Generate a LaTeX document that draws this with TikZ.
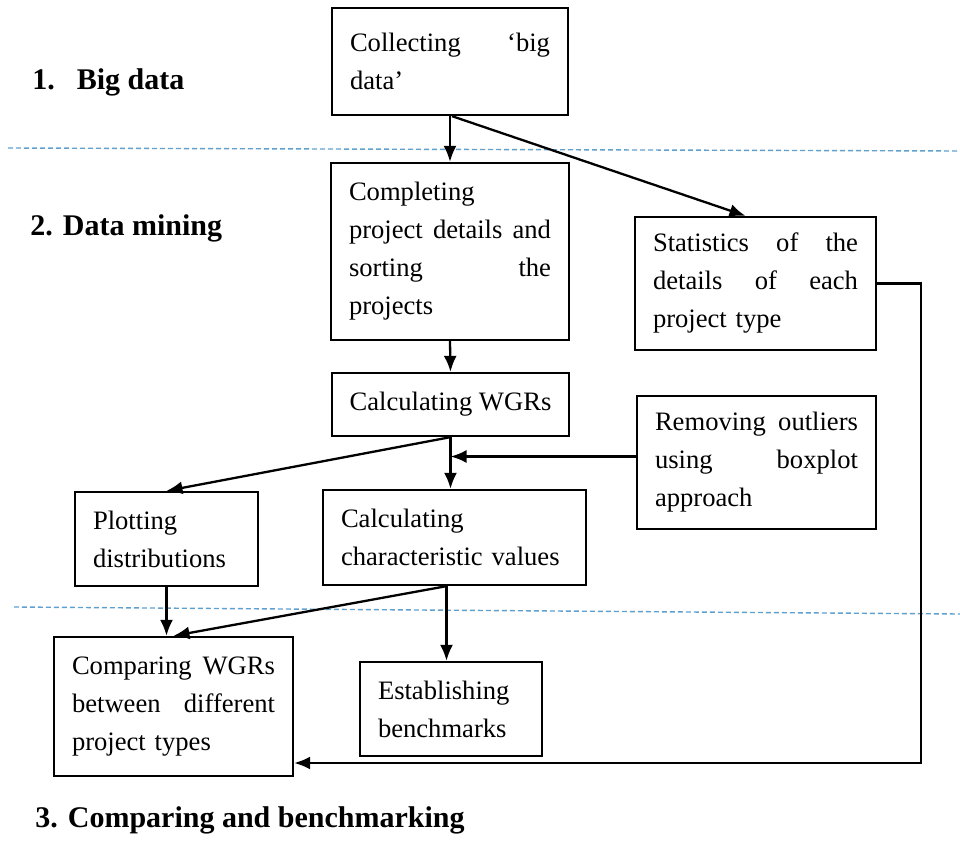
\documentclass[tikz,border=0pt]{standalone}
\usepackage{fontspec}
\setmainfont{Liberation Serif}
\usetikzlibrary{arrows.meta}
\definecolor{sepblue}{RGB}{95,160,205}

\begin{document}
\begin{tikzpicture}[x={(0.5pt,0pt)},y={(0pt,-0.5pt)},>={Latex[length=8pt,width=6.5pt]},
  box/.style={draw,line width=1.15pt,inner xsep=9pt,inner ysep=3pt,align=left,font=\fontsize{13.3pt}{19pt}\selectfont},
  stage/.style={anchor=base west,inner sep=0pt,font=\fontsize{15pt}{18pt}\selectfont\bfseries},
  sep/.style={color=sepblue,line width=0.7pt,dash pattern=on 2.5pt off 1.5pt},
  arr/.style={->,line width=1.15pt}]
\useasboundingbox (0,0) rectangle (960,846);
%分隔線
\draw[sep] (8,148) -- (960,151);
\draw[sep] (14,607) -- (960,614);
%階段
\node[stage] (s1) at (32,90) {1.\hspace{11pt}Big data};
\node[stage] (s2) at (30,235) {2. Data mining};
\node[stage] (s3) at (35,827) {3. Comparing and benchmarking};
%方框
\node[box,text width=100pt,minimum height=53.5pt] (collect) at (450,61.5) {Collecting\hfill ‘big\\data’};
\node[box,text width=101pt,minimum height=88.5pt] (complete) at (450,251.5) {Completing\\project\hfill details\hfill and\\sorting\hfill the\\projects};
\node[box,text width=102.5pt,minimum height=66.5pt] (stats) at (755.5,283.5) {Statistics\hfill of\hfill the\\details\hfill of\hfill each\\project type};
\node[box,minimum width=118.5pt,minimum height=31.5pt,align=center] (wgr) at (450.5,404.5) {Calculating WGRs};
\node[box,text width=101.5pt,minimum height=66.5pt] (outlier) at (756.5,462.5) {Removing\hfill outliers\\using\hfill boxplot\\approach};
\node[box,text width=73.5pt,minimum height=47pt] (plot) at (166.5,539) {Plotting\\distributions};
\node[box,text width=113.5pt,minimum height=47.5pt] (charval) at (454.5,537.5) {Calculating\\characteristic values};
\node[box,text width=101.5pt,minimum height=69.5pt] (compare) at (173.5,706.5) {Comparing\hfill WGRs\\between\hfill different\\project types};
\node[box,text width=73pt,minimum height=47pt] (bench) at (451,709) {Establishing\\benchmarks};
%箭頭
\draw[arr] (collect.south) -- (complete.north);
\draw[arr] ([xshift=1pt]collect.south) -- ([xshift=-5pt]stats.north);
\draw[arr] (complete.south) -- (wgr.north);
\draw[arr] (wgr.south) -- (plot.north);
\draw[arr] (wgr.south) -- (wgr.south |- charval.north);
\draw[arr] ([yshift=3pt]outlier.west) -- ([yshift=3pt]outlier.west -| wgr.south);
\draw[arr] (plot.south) -- (plot.south |- compare.north);
\draw[arr] ([xshift=-4pt]charval.south) -- (compare.north);
\draw[arr] ([xshift=-4pt]charval.south) -- ([xshift=-4pt]charval.south |- bench.north);
\coordinate (corner) at (921,763);
\draw[arr] (stats.east) -| (corner) -- (corner -| compare.east);

\end{tikzpicture}
\end{document}
